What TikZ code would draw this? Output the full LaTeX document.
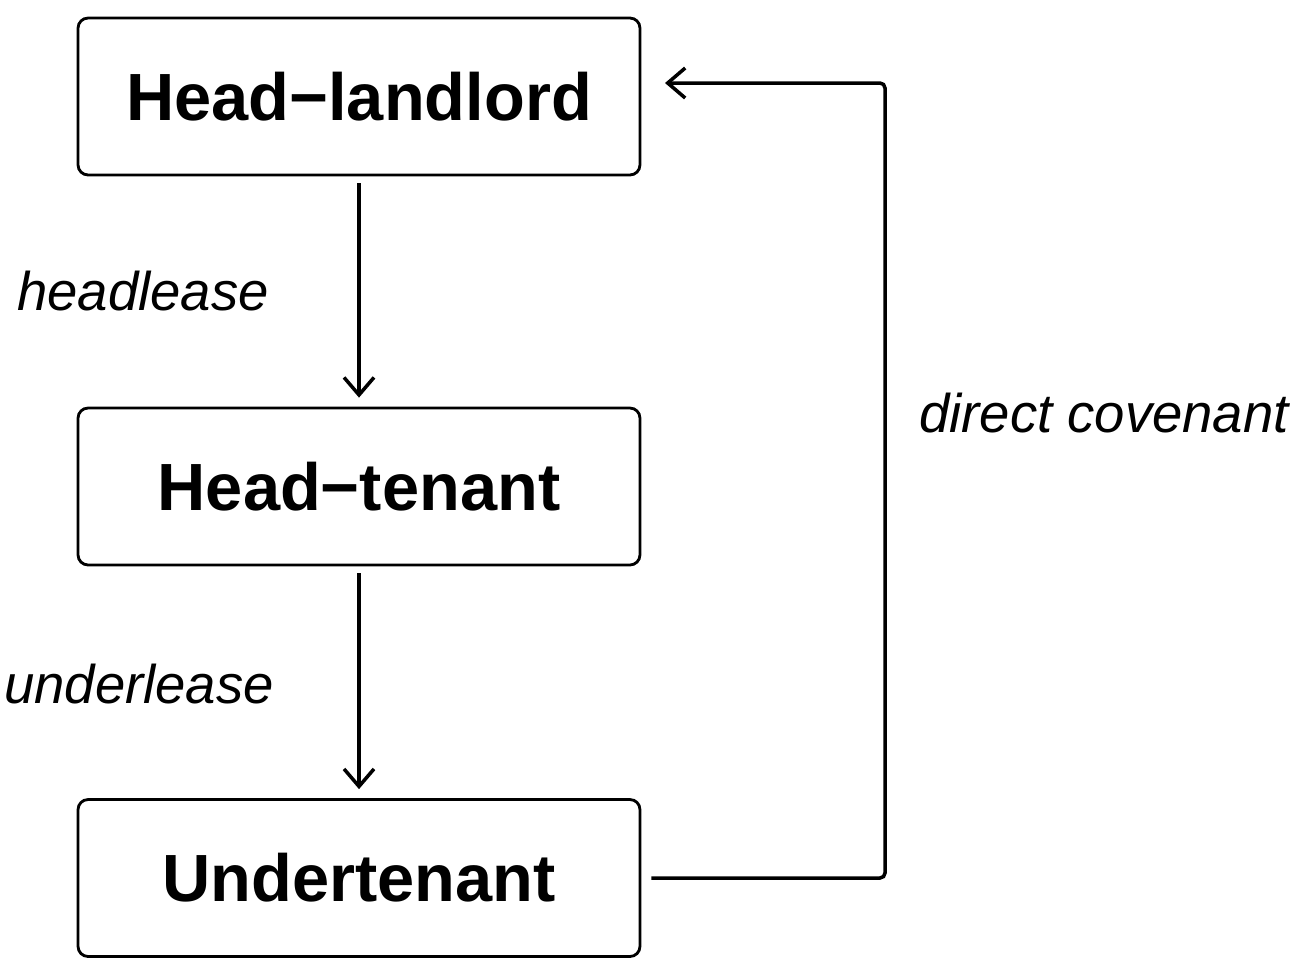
\documentclass[tikz,border=0pt]{standalone}
\usepackage{fontspec}
\setmainfont{Liberation Sans}
\usetikzlibrary{arrows.meta, positioning}
\tikzset{
  party/.style={draw, rounded corners=0.2cm, line width=1.6pt, minimum width=11.24cm,
    minimum height=3.14cm, font=\fontsize{38}{40}\selectfont\bfseries},
  lease/.style={font=\fontsize{31}{33}\selectfont\itshape},
  flow/.style={line width=2pt, -{Straight Barb[length=0.35cm, width=0.6cm, line width=2pt]}}
}
\begin{document}
\begin{tikzpicture}[x=0.02cm, y=-0.02cm]
        \useasboundingbox (0,0) rectangle (1299,975);
        \node[party] (HL) at (359, 96.5) {Head−landlord};
        \node[party] (HT) at (359, 486.5) {Head−tenant};
        \node[party] (UT) at (359, 878) {Undertenant};
        \coordinate (R1) at (885, 878);
        \coordinate (R2) at (885, 83);
        \coordinate (E) at (665, 83);
        \node[lease] (hl) at (143, 291) {headlease};
        \node[lease] (ul) at (139, 684) {underlease};
        \node[lease] (dc) at (1104, 413) {direct covenant};
        \draw[flow] ([yshift=-0.14cm]HL.south) -- ([yshift=0.18cm]HT.north);
        \draw[flow] ([yshift=-0.14cm]HT.south) -- ([yshift=0.18cm]UT.north);
        \draw[flow, rounded corners=0.1cm] ([xshift=0.2cm]UT.east) -- (R1) -- (R2) -- (E);
\end{tikzpicture}
\end{document}
